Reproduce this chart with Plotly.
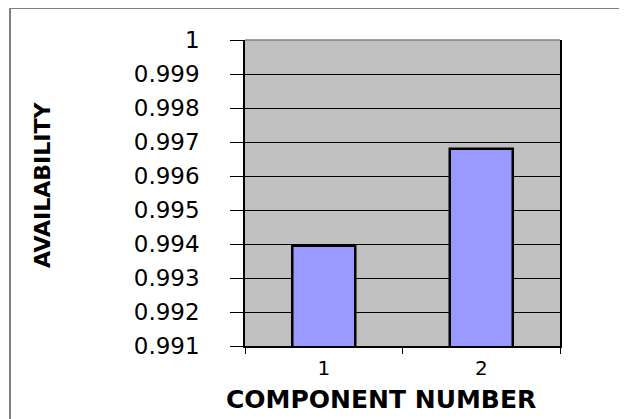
import plotly.graph_objects as go

components = ["1", "2"]
availability = [0.99395, 0.99680]
y_tick_values = [0.991, 0.992, 0.993, 0.994, 0.995, 0.996, 0.997, 0.998, 0.999, 1.0]
y_tick_labels = ["0.991", "0.992", "0.993", "0.994", "0.995", "0.996", "0.997", "0.998", "0.999", "1"]
x_title = "COMPONENT NUMBER"
y_title = "AVAILABILITY"

fig = go.Figure(go.Bar(
    x=components, y=availability,
    marker=dict(color="#9999FF", line=dict(color="black", width=2.5)),
    width=0.4,
))

fig.update_layout(
    width=619, height=411,
    margin=dict(l=237, r=67, t=32, b=73),
    paper_bgcolor="white", plot_bgcolor="#C0C0C0",
    showlegend=False,
    font=dict(family="DejaVu Sans", color="black"),
)
fig.update_yaxes(
    range=[0.991, 1.0], tickvals=y_tick_values, ticktext=y_tick_labels,
    showgrid=True, gridcolor="black", gridwidth=1,
    ticks="outside", ticklen=13, tickcolor="black", tickwidth=1,
    showline=True, linecolor="black", linewidth=1.5, mirror=True,
    tickfont=dict(size=23, family="DejaVu Sans"), ticklabelstandoff=26,
    zeroline=False,
)
fig.update_xaxes(
    type="category", tickson="boundaries", ticks="outside", ticklen=6,
    tickcolor="black", showline=True, linecolor="black", linewidth=1.5,
    showgrid=False, tickfont=dict(size=20, family="DejaVu Sans"),
    ticklabelstandoff=3,
)
# plot area top border (gray)
fig.add_shape(type="line", xref="paper", yref="paper", x0=0, x1=1, y0=1, y1=1,
              line=dict(color="#808080", width=1.5))
# outer chart frame
fig.add_shape(type="rect", xref="paper", yref="paper",
              x0=-235/315, x1=1.3, y0=-0.5, y1=1 + 32/306,
              line=dict(color="#808080", width=2), layer="above")

fig.add_annotation(text=f"<b>{x_title}</b>", xref="paper", yref="paper",
                   x=(381 - 245) / 315, y=-(399 - 346) / 306,
                   xanchor="center", yanchor="middle", showarrow=False,
                   font=dict(size=25, family="DejaVu Sans", color="black"))
fig.add_annotation(text=f"<b>{y_title}</b>", xref="paper", yref="paper",
                   x=(42 - 245) / 315, y=1 - (185 - 40) / 306,
                   xanchor="center", yanchor="middle", showarrow=False, textangle=-90,
                   font=dict(size=22, family="DejaVu Sans", color="black"))

fig.write_html("out.html")
